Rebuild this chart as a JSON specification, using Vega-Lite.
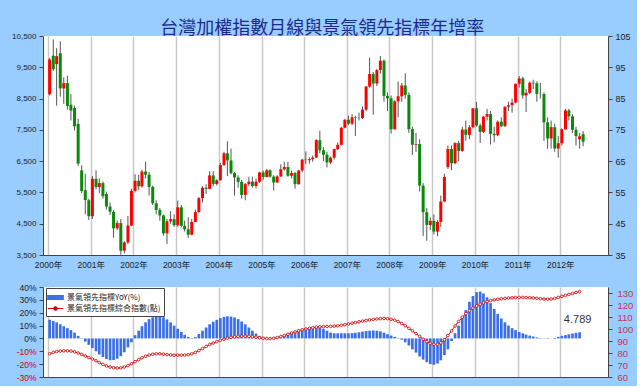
{
"$schema":"https://vega.github.io/schema/vega-lite/v6.json",
"background":"#99ccff",
"padding":{"left":11,"top":20,"right":4,"bottom":4},
"title":{"text":"台灣加權指數月線與景氣領先指標年增率","font":"Noto Sans CJK TC","fontSize":18,"fontWeight":"normal","color":"#1c2a8c","anchor":"middle","offset":-6},
"config":{
 "view":{"stroke":null,"fill":"white"},
 "axis":{"labelFont":"Liberation Sans","labelFontSize":8,"labelColor":"#222","domainColor":"#444","tickColor":"#444","tickSize":4,"labelPadding":2,"title":null,"grid":false,"labelOverlap":false,"labelBound":false},
 "axisQuantitative":{"labelOverlap":false},
 "legend":{"labelFont":"Noto Sans CJK TC"}
},
"resolve":{"scale":{"color":"independent"},"legend":{"color":"independent"}},
"datasets":{
"k":[
{"d":"2000-01-15","o":8640,"h":9800,"l":8600,"c":9745},
{"d":"2000-02-15","o":9870,"h":10393,"l":9380,"c":9436},
{"d":"2000-03-15","o":9600,"h":10110,"l":8270,"c":9855},
{"d":"2000-04-15","o":9950,"h":10330,"l":8560,"c":8825},
{"d":"2000-05-15","o":8825,"h":9180,"l":8330,"c":8995},
{"d":"2000-06-15","o":8995,"h":9230,"l":8150,"c":8265},
{"d":"2000-07-15","o":8300,"h":8640,"l":7800,"c":8115},
{"d":"2000-08-15","o":8200,"h":8280,"l":7480,"c":7616},
{"d":"2000-09-15","o":7690,"h":7850,"l":6350,"c":6420},
{"d":"2000-10-15","o":6205,"h":6365,"l":5480,"c":5544},
{"d":"2000-11-15","o":5570,"h":6100,"l":4800,"c":5257},
{"d":"2000-12-15","o":5250,"h":5300,"l":4620,"c":4739},
{"d":"2001-01-15","o":4739,"h":6020,"l":4650,"c":5936},
{"d":"2001-02-15","o":5936,"h":6205,"l":5600,"c":5675},
{"d":"2001-03-15","o":5675,"h":5950,"l":5480,"c":5798},
{"d":"2001-04-15","o":5798,"h":5850,"l":5300,"c":5382},
{"d":"2001-05-15","o":5450,"h":5520,"l":4950,"c":5050},
{"d":"2001-06-15","o":5050,"h":5180,"l":4780,"c":4883},
{"d":"2001-07-15","o":4883,"h":4935,"l":4050,"c":4352},
{"d":"2001-08-15","o":4352,"h":4600,"l":4300,"c":4521},
{"d":"2001-09-15","o":4521,"h":4650,"l":3510,"c":3637},
{"d":"2001-10-15","o":3637,"h":3940,"l":3550,"c":3903},
{"d":"2001-11-15","o":3903,"h":4750,"l":3850,"c":4441},
{"d":"2001-12-15","o":4441,"h":5620,"l":4420,"c":5551},
{"d":"2002-01-15","o":5551,"h":6080,"l":5500,"c":5872},
{"d":"2002-02-15","o":5872,"h":6060,"l":5580,"c":5696},
{"d":"2002-03-15","o":5696,"h":6220,"l":5650,"c":6167},
{"d":"2002-04-15","o":6167,"h":6484,"l":5950,"c":6066},
{"d":"2002-05-15","o":6066,"h":6150,"l":5400,"c":5675},
{"d":"2002-06-15","o":5675,"h":5720,"l":5100,"c":5153},
{"d":"2002-07-15","o":5153,"h":5250,"l":4800,"c":4940},
{"d":"2002-08-15","o":4940,"h":5000,"l":4600,"c":4764},
{"d":"2002-09-15","o":4764,"h":4800,"l":4120,"c":4192},
{"d":"2002-10-15","o":4192,"h":4650,"l":3850,"c":4579},
{"d":"2002-11-15","o":4579,"h":4900,"l":4500,"c":4646},
{"d":"2002-12-15","o":4646,"h":4800,"l":4400,"c":4452},
{"d":"2003-01-15","o":4452,"h":5240,"l":4400,"c":5025},
{"d":"2003-02-15","o":5025,"h":5100,"l":4385,"c":4432},
{"d":"2003-03-15","o":4432,"h":4600,"l":4250,"c":4321},
{"d":"2003-04-15","o":4321,"h":4700,"l":4044,"c":4149},
{"d":"2003-05-15","o":4149,"h":4650,"l":4130,"c":4556},
{"d":"2003-06-15","o":4556,"h":4950,"l":4550,"c":4872},
{"d":"2003-07-15","o":4872,"h":5350,"l":4850,"c":5318},
{"d":"2003-08-15","o":5318,"h":5700,"l":5180,"c":5650},
{"d":"2003-09-15","o":5650,"h":5760,"l":5450,"c":5611},
{"d":"2003-10-15","o":5611,"h":6180,"l":5600,"c":6045},
{"d":"2003-11-15","o":6045,"h":6180,"l":5700,"c":5771},
{"d":"2003-12-15","o":5771,"h":5920,"l":5720,"c":5890},
{"d":"2004-01-15","o":5890,"h":6450,"l":5880,"c":6375},
{"d":"2004-02-15","o":6375,"h":6800,"l":6350,"c":6750},
{"d":"2004-03-15","o":6750,"h":7135,"l":6020,"c":6522},
{"d":"2004-04-15","o":6522,"h":6900,"l":6080,"c":6117},
{"d":"2004-05-15","o":6117,"h":6150,"l":5400,"c":5977},
{"d":"2004-06-15","o":5977,"h":6050,"l":5650,"c":5839},
{"d":"2004-07-15","o":5839,"h":5900,"l":5300,"c":5420},
{"d":"2004-08-15","o":5420,"h":5800,"l":5250,"c":5765},
{"d":"2004-09-15","o":5765,"h":6000,"l":5700,"c":5845},
{"d":"2004-10-15","o":5845,"h":6000,"l":5650,"c":5705},
{"d":"2004-11-15","o":5705,"h":5950,"l":5630,"c":5844},
{"d":"2004-12-15","o":5844,"h":6160,"l":5800,"c":6139},
{"d":"2005-01-15","o":6139,"h":6200,"l":5900,"c":5994},
{"d":"2005-02-15","o":5994,"h":6250,"l":5980,"c":6207},
{"d":"2005-03-15","o":6207,"h":6240,"l":5970,"c":6006},
{"d":"2005-04-15","o":6006,"h":6050,"l":5565,"c":5818},
{"d":"2005-05-15","o":5818,"h":6050,"l":5800,"c":6011},
{"d":"2005-06-15","o":6011,"h":6400,"l":5990,"c":6241},
{"d":"2005-07-15","o":6241,"h":6480,"l":6200,"c":6311},
{"d":"2005-08-15","o":6311,"h":6480,"l":6000,"c":6033},
{"d":"2005-09-15","o":6033,"h":6200,"l":5950,"c":6118},
{"d":"2005-10-15","o":6118,"h":6150,"l":5620,"c":5764},
{"d":"2005-11-15","o":5764,"h":6220,"l":5750,"c":6203},
{"d":"2005-12-15","o":6203,"h":6575,"l":6150,"c":6548},
{"d":"2006-01-15","o":6548,"h":6810,"l":6400,"c":6532},
{"d":"2006-02-15","o":6532,"h":6620,"l":6420,"c":6561},
{"d":"2006-03-15","o":6561,"h":6680,"l":6480,"c":6613},
{"d":"2006-04-15","o":6613,"h":7200,"l":6600,"c":7171},
{"d":"2006-05-15","o":7171,"h":7476,"l":6750,"c":6846},
{"d":"2006-06-15","o":6846,"h":6950,"l":6500,"c":6704},
{"d":"2006-07-15","o":6704,"h":6800,"l":6300,"c":6457},
{"d":"2006-08-15","o":6457,"h":6650,"l":6400,"c":6611},
{"d":"2006-09-15","o":6611,"h":6900,"l":6550,"c":6883},
{"d":"2006-10-15","o":6883,"h":7100,"l":6850,"c":7021},
{"d":"2006-11-15","o":7021,"h":7600,"l":7000,"c":7567},
{"d":"2006-12-15","o":7567,"h":7850,"l":7550,"c":7823},
{"d":"2007-01-15","o":7823,"h":7950,"l":7650,"c":7699},
{"d":"2007-02-15","o":7699,"h":8000,"l":7650,"c":7901},
{"d":"2007-03-15","o":7901,"h":7950,"l":7306,"c":7884},
{"d":"2007-04-15","o":7884,"h":8050,"l":7800,"c":7875},
{"d":"2007-05-15","o":7875,"h":8250,"l":7850,"c":8145},
{"d":"2007-06-15","o":8145,"h":8900,"l":8100,"c":8883},
{"d":"2007-07-15","o":8883,"h":9807,"l":8850,"c":9287},
{"d":"2007-08-15","o":9287,"h":9350,"l":7987,"c":8982},
{"d":"2007-09-15","o":8982,"h":9450,"l":8900,"c":9411},
{"d":"2007-10-15","o":9411,"h":9859,"l":9300,"c":9711},
{"d":"2007-11-15","o":9711,"h":9750,"l":8400,"c":8586},
{"d":"2007-12-15","o":8586,"h":8700,"l":8100,"c":8506},
{"d":"2008-01-15","o":8506,"h":8600,"l":7384,"c":7521},
{"d":"2008-02-15","o":7521,"h":8450,"l":7500,"c":8412},
{"d":"2008-03-15","o":8412,"h":9049,"l":7900,"c":8572},
{"d":"2008-04-15","o":8572,"h":9000,"l":8400,"c":8919},
{"d":"2008-05-15","o":8919,"h":9309,"l":8500,"c":8619},
{"d":"2008-06-15","o":8619,"h":8700,"l":7400,"c":7523},
{"d":"2008-07-15","o":7523,"h":7600,"l":6700,"c":7024},
{"d":"2008-08-15","o":7024,"h":7400,"l":6800,"c":7046},
{"d":"2008-09-15","o":7046,"h":7200,"l":5530,"c":5719},
{"d":"2008-10-15","o":5719,"h":5800,"l":4110,"c":4870},
{"d":"2008-11-15","o":4870,"h":5000,"l":3955,"c":4460},
{"d":"2008-12-15","o":4460,"h":4700,"l":4300,"c":4591},
{"d":"2009-01-15","o":4591,"h":4800,"l":4160,"c":4248},
{"d":"2009-02-15","o":4248,"h":4620,"l":4100,"c":4557},
{"d":"2009-03-15","o":4557,"h":5400,"l":4400,"c":5210},
{"d":"2009-04-15","o":5210,"h":6100,"l":5200,"c":5993},
{"d":"2009-05-15","o":6310,"h":7000,"l":6250,"c":6890},
{"d":"2009-06-15","o":6890,"h":7000,"l":6210,"c":6432},
{"d":"2009-07-15","o":6432,"h":7100,"l":6400,"c":7078},
{"d":"2009-08-15","o":7078,"h":7150,"l":6500,"c":6826},
{"d":"2009-09-15","o":6826,"h":7600,"l":6800,"c":7509},
{"d":"2009-10-15","o":7509,"h":7800,"l":7150,"c":7340},
{"d":"2009-11-15","o":7340,"h":7650,"l":7200,"c":7582},
{"d":"2009-12-15","o":7582,"h":8200,"l":7550,"c":8188},
{"d":"2010-01-15","o":8188,"h":8395,"l":7600,"c":7640},
{"d":"2010-02-15","o":7640,"h":7700,"l":7080,"c":7436},
{"d":"2010-03-15","o":7436,"h":7950,"l":7400,"c":7920},
{"d":"2010-04-15","o":7920,"h":8170,"l":7800,"c":8004},
{"d":"2010-05-15","o":8004,"h":8100,"l":7032,"c":7374},
{"d":"2010-06-15","o":7374,"h":7600,"l":7100,"c":7329},
{"d":"2010-07-15","o":7329,"h":7800,"l":7300,"c":7760},
{"d":"2010-08-15","o":7760,"h":7900,"l":7600,"c":7616},
{"d":"2010-09-15","o":7616,"h":8250,"l":7600,"c":8237},
{"d":"2010-10-15","o":8237,"h":8400,"l":8100,"c":8287},
{"d":"2010-11-15","o":8287,"h":8500,"l":8050,"c":8372},
{"d":"2010-12-15","o":8372,"h":8980,"l":8350,"c":8972},
{"d":"2011-01-15","o":8972,"h":9220,"l":8850,"c":9145},
{"d":"2011-02-15","o":9145,"h":9200,"l":8500,"c":8600},
{"d":"2011-03-15","o":8600,"h":8800,"l":8070,"c":8683},
{"d":"2011-04-15","o":8683,"h":9050,"l":8650,"c":9008},
{"d":"2011-05-15","o":9008,"h":9100,"l":8800,"c":8988},
{"d":"2011-06-15","o":8988,"h":9050,"l":8400,"c":8652},
{"d":"2011-07-15","o":8652,"h":9000,"l":8500,"c":8644},
{"d":"2011-08-15","o":8644,"h":8700,"l":7150,"c":7741},
{"d":"2011-09-15","o":7741,"h":7900,"l":6900,"c":7225},
{"d":"2011-10-15","o":7225,"h":7800,"l":6900,"c":7587},
{"d":"2011-11-15","o":7587,"h":7700,"l":6800,"c":6904},
{"d":"2011-12-15","o":6904,"h":7300,"l":6609,"c":7072},
{"d":"2012-01-15","o":7072,"h":7550,"l":7000,"c":7517},
{"d":"2012-02-15","o":7517,"h":8170,"l":7500,"c":8121},
{"d":"2012-03-15","o":8121,"h":8170,"l":7800,"c":7933},
{"d":"2012-04-15","o":7933,"h":8000,"l":7400,"c":7501},
{"d":"2012-05-15","o":7501,"h":7600,"l":7000,"c":7301},
{"d":"2012-06-15","o":7200,"h":7400,"l":6900,"c":7296},
{"d":"2012-07-15","o":7360,"h":7460,"l":6980,"c":7120}
],
"b":[
{"d":"2000-01-15","yoy":14.5,"idx":79.4},{"d":"2000-02-15","yoy":13.5,"idx":80.5},{"d":"2000-03-15","yoy":12.5,"idx":81.2},{"d":"2000-04-15","yoy":11,"idx":81.6},{"d":"2000-05-15","yoy":9.5,"idx":81.8},{"d":"2000-06-15","yoy":8,"idx":81.8},{"d":"2000-07-15","yoy":6.5,"idx":81.6},{"d":"2000-08-15","yoy":4.5,"idx":81},{"d":"2000-09-15","yoy":2,"idx":80},{"d":"2000-10-15","yoy":-0.3,"idx":78.8},{"d":"2000-11-15","yoy":-2.5,"idx":77.5},{"d":"2000-12-15","yoy":-5,"idx":76.2},
{"d":"2001-01-15","yoy":-7.5,"idx":75},{"d":"2001-02-15","yoy":-10,"idx":73.5},{"d":"2001-03-15","yoy":-12.5,"idx":72},{"d":"2001-04-15","yoy":-14.5,"idx":70.5},{"d":"2001-05-15","yoy":-16,"idx":69.2},{"d":"2001-06-15","yoy":-17,"idx":68.3},{"d":"2001-07-15","yoy":-16.8,"idx":67.8},{"d":"2001-08-15","yoy":-15.8,"idx":67.5},{"d":"2001-09-15","yoy":-13.8,"idx":67.6},{"d":"2001-10-15","yoy":-10.8,"idx":68.3},{"d":"2001-11-15","yoy":-7,"idx":69.5},{"d":"2001-12-15","yoy":-3,"idx":71},
{"d":"2002-01-15","yoy":2.5,"idx":72.8},{"d":"2002-02-15","yoy":6,"idx":74.5},{"d":"2002-03-15","yoy":9.5,"idx":76},{"d":"2002-04-15","yoy":12.5,"idx":77.3},{"d":"2002-05-15","yoy":15,"idx":78.3},{"d":"2002-06-15","yoy":16.5,"idx":79},{"d":"2002-07-15","yoy":17.5,"idx":79.3},{"d":"2002-08-15","yoy":17.5,"idx":79.3},{"d":"2002-09-15","yoy":16.5,"idx":79},{"d":"2002-10-15","yoy":14.8,"idx":78.7},{"d":"2002-11-15","yoy":12.5,"idx":78.4},{"d":"2002-12-15","yoy":10,"idx":78.2},
{"d":"2003-01-15","yoy":7.5,"idx":78.2},{"d":"2003-02-15","yoy":5,"idx":78.2},{"d":"2003-03-15","yoy":2.8,"idx":78.3},{"d":"2003-04-15","yoy":1.2,"idx":78.6},{"d":"2003-05-15","yoy":0.3,"idx":79.3},{"d":"2003-06-15","yoy":1,"idx":80.5},{"d":"2003-07-15","yoy":3.5,"idx":82},{"d":"2003-08-15","yoy":6,"idx":83.8},{"d":"2003-09-15","yoy":8.5,"idx":85.5},{"d":"2003-10-15","yoy":11,"idx":87},{"d":"2003-11-15","yoy":13,"idx":88.3},{"d":"2003-12-15","yoy":14.5,"idx":89.5},
{"d":"2004-01-15","yoy":15.8,"idx":90.5},{"d":"2004-02-15","yoy":16.8,"idx":91.5},{"d":"2004-03-15","yoy":17.2,"idx":92.3},{"d":"2004-04-15","yoy":17,"idx":93},{"d":"2004-05-15","yoy":16.3,"idx":93.5},{"d":"2004-06-15","yoy":15,"idx":93.8},{"d":"2004-07-15","yoy":13.2,"idx":94},{"d":"2004-08-15","yoy":11,"idx":94},{"d":"2004-09-15","yoy":8.5,"idx":93.9},{"d":"2004-10-15","yoy":6,"idx":93.6},{"d":"2004-11-15","yoy":3.8,"idx":93.2},{"d":"2004-12-15","yoy":2,"idx":92.7},
{"d":"2005-01-15","yoy":0.8,"idx":92.3},{"d":"2005-02-15","yoy":0.2,"idx":92},{"d":"2005-03-15","yoy":0.1,"idx":92},{"d":"2005-04-15","yoy":0.3,"idx":92.3},{"d":"2005-05-15","yoy":0.8,"idx":92.9},{"d":"2005-06-15","yoy":1.5,"idx":93.7},{"d":"2005-07-15","yoy":2.5,"idx":94.6},{"d":"2005-08-15","yoy":3.5,"idx":95.6},{"d":"2005-09-15","yoy":4.8,"idx":96.6},{"d":"2005-10-15","yoy":5.8,"idx":97.6},{"d":"2005-11-15","yoy":6.8,"idx":98.5},{"d":"2005-12-15","yoy":7.6,"idx":99.3},
{"d":"2006-01-15","yoy":8.2,"idx":100},{"d":"2006-02-15","yoy":8.6,"idx":100.6},{"d":"2006-03-15","yoy":8.8,"idx":101.1},{"d":"2006-04-15","yoy":8.8,"idx":101.5},{"d":"2006-05-15","yoy":8.4,"idx":101.8},{"d":"2006-06-15","yoy":7.5,"idx":102},{"d":"2006-07-15","yoy":6,"idx":102.1},{"d":"2006-08-15","yoy":4.5,"idx":102.2},{"d":"2006-09-15","yoy":4,"idx":102.4},{"d":"2006-10-15","yoy":4,"idx":102.7},{"d":"2006-11-15","yoy":4,"idx":103.1},{"d":"2006-12-15","yoy":4,"idx":103.6},
{"d":"2007-01-15","yoy":4,"idx":104.2},{"d":"2007-02-15","yoy":4.1,"idx":104.8},{"d":"2007-03-15","yoy":4.4,"idx":105.4},{"d":"2007-04-15","yoy":4.8,"idx":106},{"d":"2007-05-15","yoy":5.3,"idx":106.6},{"d":"2007-06-15","yoy":5.8,"idx":107.1},{"d":"2007-07-15","yoy":6,"idx":107.6},{"d":"2007-08-15","yoy":6.2,"idx":108},{"d":"2007-09-15","yoy":6,"idx":108.4},{"d":"2007-10-15","yoy":5.5,"idx":108.7},{"d":"2007-11-15","yoy":4.5,"idx":108.8},{"d":"2007-12-15","yoy":3.3,"idx":108.6},
{"d":"2008-01-15","yoy":2.2,"idx":108.1},{"d":"2008-02-15","yoy":1.2,"idx":107.3},{"d":"2008-03-15","yoy":0.3,"idx":106.2},{"d":"2008-04-15","yoy":-1,"idx":104.6},{"d":"2008-05-15","yoy":-3,"idx":102.7},{"d":"2008-06-15","yoy":-5.5,"idx":100.6},{"d":"2008-07-15","yoy":-8.5,"idx":98.5},{"d":"2008-08-15","yoy":-11,"idx":96.2},{"d":"2008-09-15","yoy":-14,"idx":93.8},{"d":"2008-10-15","yoy":-16.5,"idx":91.5},{"d":"2008-11-15","yoy":-18.5,"idx":89.5},{"d":"2008-12-15","yoy":-20,"idx":88},
{"d":"2009-01-15","yoy":-20.5,"idx":87.2},{"d":"2009-02-15","yoy":-19.5,"idx":87.2},{"d":"2009-03-15","yoy":-17,"idx":88.5},{"d":"2009-04-15","yoy":-13,"idx":91},{"d":"2009-05-15","yoy":-8.5,"idx":94.5},{"d":"2009-06-15","yoy":-2,"idx":98.5},{"d":"2009-07-15","yoy":4,"idx":102.5},{"d":"2009-08-15","yoy":10,"idx":106.3},{"d":"2009-09-15","yoy":16,"idx":109.8},{"d":"2009-10-15","yoy":22,"idx":112.8},{"d":"2009-11-15","yoy":28.5,"idx":115.3},{"d":"2009-12-15","yoy":33,"idx":117.4},
{"d":"2010-01-15","yoy":36,"idx":119.2},{"d":"2010-02-15","yoy":36.5,"idx":120.7},{"d":"2010-03-15","yoy":35,"idx":121.9},{"d":"2010-04-15","yoy":32,"idx":122.9},{"d":"2010-05-15","yoy":27.5,"idx":123.7},{"d":"2010-06-15","yoy":23,"idx":124.3},{"d":"2010-07-15","yoy":19,"idx":124.8},{"d":"2010-08-15","yoy":15.5,"idx":125.2},{"d":"2010-09-15","yoy":12.5,"idx":125.5},{"d":"2010-10-15","yoy":10,"idx":125.8},{"d":"2010-11-15","yoy":8,"idx":126},{"d":"2010-12-15","yoy":6.5,"idx":126.2},
{"d":"2011-01-15","yoy":5,"idx":126.3},{"d":"2011-02-15","yoy":4,"idx":126.3},{"d":"2011-03-15","yoy":3,"idx":126.2},{"d":"2011-04-15","yoy":2.2,"idx":126.1},{"d":"2011-05-15","yoy":1.5,"idx":125.9},{"d":"2011-06-15","yoy":0.8,"idx":125.6},{"d":"2011-07-15","yoy":0.3,"idx":125.3},{"d":"2011-08-15","yoy":-0.2,"idx":125},{"d":"2011-09-15","yoy":-0.3,"idx":124.9},{"d":"2011-10-15","yoy":-0.1,"idx":125},{"d":"2011-11-15","yoy":0.4,"idx":125.5},{"d":"2011-12-15","yoy":1.2,"idx":126.3},
{"d":"2012-01-15","yoy":2,"idx":127.2},{"d":"2012-02-15","yoy":2.6,"idx":128},{"d":"2012-03-15","yoy":3.2,"idx":128.8},{"d":"2012-04-15","yoy":3.8,"idx":129.6},{"d":"2012-05-15","yoy":4.4,"idx":130.4},{"d":"2012-06-15","yoy":4.789,"idx":131.2}
],
"note":[{"d":"2012-06-15","yoy":4.789}]
},
"spacing":14,
"vconcat":[
{
 "width":565,"height":219,
 "resolve":{"scale":{"y":"independent"}},
 "layer":[
  {"data":{"name":"k"},
   "layer":[
    {"mark":{"type":"rule","color":"#555","strokeWidth":1},
     "encoding":{
      "x":{"field":"d","type":"temporal",
           "scale":{"domain":[{"year":2000,"month":1,"date":1},{"year":2013,"month":1,"date":1}]},
           "axis":{"values":[{"year":2000,"month":1,"date":1},{"year":2001,"month":1,"date":1},{"year":2002,"month":1,"date":1},{"year":2003,"month":1,"date":1},{"year":2004,"month":1,"date":1},{"year":2005,"month":1,"date":1},{"year":2006,"month":1,"date":1},{"year":2007,"month":1,"date":1},{"year":2008,"month":1,"date":1},{"year":2009,"month":1,"date":1},{"year":2010,"month":1,"date":1},{"year":2011,"month":1,"date":1},{"year":2012,"month":1,"date":1}],
             "format":"%Y年","labelFlush":false,"labelOverlap":false,"grid":true,"gridColor":"#c8c8c8","gridWidth":1.5,"ticks":false,"labelPadding":5,"labelFontSize":8.5,"labelFont":"Liberation Sans, Noto Sans CJK TC"}},
      "y":{"field":"l","type":"quantitative","scale":{"domain":[3500,10500],"nice":false,"zero":false},
           "axis":{"values":[3500,4500,5500,6500,7500,8500,9500,10500],"format":",d","labelPadding":3,"labelOverlap":false}},
      "y2":{"field":"h"}}},
    {"mark":{"type":"bar","width":3},
     "encoding":{
      "x":{"field":"d","type":"temporal"},
      "y":{"field":"o","type":"quantitative","axis":{"values":[3500,4500,5500,6500,7500,8500,9500,10500],"format":",d","labelPadding":3,"labelOverlap":false}},
      "y2":{"field":"c"},
      "color":{"condition":{"test":"datum.c >= datum.o","value":"#ff0000"},"value":"#0a8a0a"}}}
   ]},
  {"mark":{"type":"rule","color":"#222","strokeDash":[3,3],"strokeWidth":1},
   "encoding":{
    "y":{"datum":6500,"type":"quantitative","scale":{"domain":[3500,10500],"nice":false,"zero":false},
         "axis":{"orient":"right","values":[3500,4500,5500,6500,7500,8500,9500,10500],"labelExpr":"datum.value/100","labelPadding":3,"labelFontSize":9,"labelOverlap":false}}}}
 ]
},
{
 "width":565,"height":90,
 "resolve":{"scale":{"y":"independent"}},
 "layer":[
  {"layer":[
    {"data":{"name":"b"},
     "mark":{"type":"bar","width":2.7},
     "encoding":{
      "x":{"field":"d","type":"temporal",
           "scale":{"domain":[{"year":2000,"month":1,"date":1},{"year":2013,"month":1,"date":1}]},
           "axis":{"values":[{"year":2000,"month":1,"date":1},{"year":2001,"month":1,"date":1},{"year":2002,"month":1,"date":1},{"year":2003,"month":1,"date":1},{"year":2004,"month":1,"date":1},{"year":2005,"month":1,"date":1},{"year":2006,"month":1,"date":1},{"year":2007,"month":1,"date":1},{"year":2008,"month":1,"date":1},{"year":2009,"month":1,"date":1},{"year":2010,"month":1,"date":1},{"year":2011,"month":1,"date":1},{"year":2012,"month":1,"date":1}],
             "labels":false,"ticks":false,"grid":true,"gridColor":"#c8c8c8","gridWidth":1.5}},
      "y":{"field":"yoy","type":"quantitative","scale":{"domain":[-30,40],"nice":false},
           "axis":{"values":[-30,-20,-10,0,10,20,30,40],"labelExpr":"datum.value + '%'","labelFontSize":8.5,"labelPadding":3,"labelOverlap":false,
                   "labelColor":{"condition":{"test":"datum.value < 0","value":"#cc0000"},"value":"#222"}}},
      "color":{"datum":"景氣領先指標YoY(%)","type":"nominal",
        "scale":{"domain":["景氣領先指標YoY(%)","景氣領先指標綜合指數(點)"],"range":["#3b6fe8","#cc0000"]},
        "legend":{"title":null,"orient":"none","legendX":3,"legendY":1,"fillColor":"white","strokeColor":"#444","padding":3,
          "labelFontSize":8,"labelColor":"#222","symbolSize":121,"rowPadding":0,"labelOffset":5,"symbolStrokeWidth":1.2,
          "encode":{"symbols":{"update":{
            "shape":{"signal":"datum.value == '景氣領先指標YoY(%)' ? 'M-1.4,-0.35H1.4V0.35H-1.4Z' : 'M-1.4,0H-0.3M0.3,0H1.4M-0.3,0a0.3,0.3 0 1,0 0.6,0a0.3,0.3 0 1,0 -0.6,0'"},
            "fill":{"signal":"datum.value == '景氣領先指標YoY(%)' ? '#3b6fe8' : 'transparent'"},
            "stroke":{"signal":"datum.value == '景氣領先指標YoY(%)' ? 'transparent' : '#cc0000'"}}}}}}}},
    {"data":{"name":"note"},
     "mark":{"type":"text","dy":-12,"dx":-2,"font":"Liberation Sans","fontSize":11,"color":"#333"},
     "encoding":{
      "x":{"field":"d","type":"temporal"},
      "y":{"field":"yoy","type":"quantitative","axis":{"values":[-30,-20,-10,0,10,20,30,40],"labelExpr":"datum.value + '%'","labelOverlap":false}},
      "text":{"field":"yoy","type":"quantitative","format":".3f"}}},
    {"mark":{"type":"rule","color":"#222","strokeWidth":1},
     "encoding":{"y":{"datum":0,"type":"quantitative","axis":{"values":[-30,-20,-10,0,10,20,30,40],"labelExpr":"datum.value + '%'","labelOverlap":false}}}}
  ]},
  {"data":{"name":"b"},
   "mark":{"type":"line","strokeWidth":1,"point":{"filled":false,"fill":"white","size":7,"strokeWidth":0.8}},
   "encoding":{
    "x":{"field":"d","type":"temporal"},
    "y":{"field":"idx","type":"quantitative","scale":{"domain":[60,135],"nice":false,"zero":false},
         "axis":{"orient":"right","values":[60,70,80,90,100,110,120,130],"labelColor":"#c8324f","labelFontSize":9.5,"labelPadding":5,"labelOverlap":false}},
    "color":{"datum":"景氣領先指標綜合指數(點)","type":"nominal"}}}
 ]
}
]
}
